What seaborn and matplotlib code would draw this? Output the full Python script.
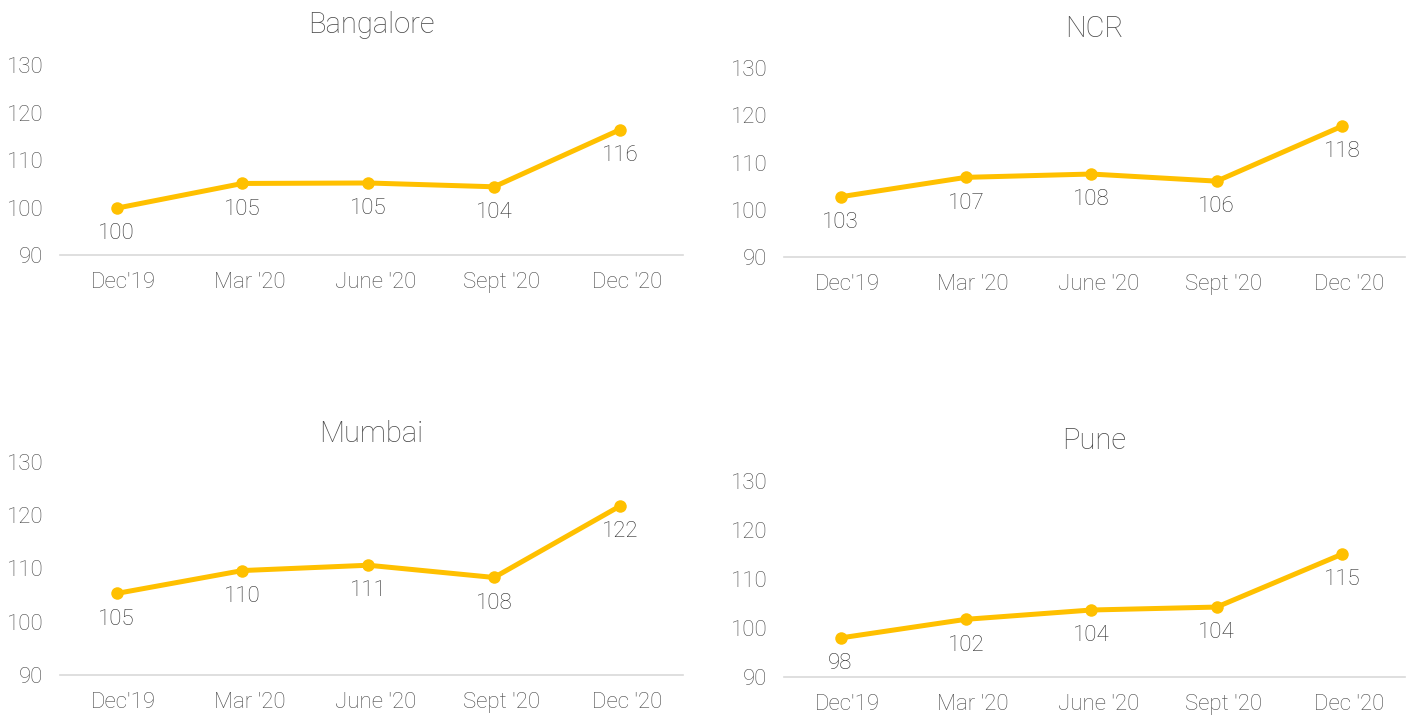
import matplotlib
matplotlib.use("Agg")
import pandas as pd
import matplotlib.pyplot as plt
import matplotlib.transforms as mtransforms
import seaborn as sns

# Chart data
periods = ["Dec'19", "Mar '20", "June '20", "Sept '20", "Dec '20"]
bangalore = [99.9, 105.1, 105.2, 104.4, 116.4]
ncr = [102.8, 106.9, 107.6, 106.1, 117.7]
mumbai = [105.3, 109.6, 110.6, 108.3, 121.7]
pune = [98.0, 101.8, 103.7, 104.3, 115.1]
cities = ["Bangalore", "NCR", "Mumbai", "Pune"]
y_ticks = [90, 100, 110, 120, 130]

sns.set_theme(style="white")
plt.rcParams["font.family"] = ["Roboto", "DejaVu Sans"]

line_color = "#FFC000"
tick_color = "#4A4A4A"
label_color = "#2E2E2E"

fig = plt.figure(figsize=(14.09, 7.15), dpi=100)

# Axes rectangles [left, bottom, width, height] and title pads
panels = [
    ([0.0426, 0.643, 0.442, 0.266], 23),
    ([0.5565, 0.640, 0.4405, 0.265], 22),
    ([0.0426, 0.056, 0.442, 0.298], 14),
    ([0.5565, 0.053, 0.4405, 0.274], 23),
]
series = [bangalore, ncr, mumbai, pune]

# nudge category labels a little to the right, like the original
shift = mtransforms.ScaledTranslation(0.07, 0, fig.dpi_scale_trans)

for (rect, pad), city, values in zip(panels, cities, series):
    ax = fig.add_axes(rect)
    df = pd.DataFrame({"Period": periods, "Index": values})
    sns.lineplot(
        data=df,
        x="Period",
        y="Index",
        color=line_color,
        linewidth=3.6,
        marker="o",
        markersize=9,
        markeredgewidth=0,
        ax=ax
    )
    for i, v in enumerate(values):
        ax.annotate(
            f"{v:.0f}",
            (i, v),
            xytext=(0, -18.5),
            textcoords="offset points",
            ha="center",
            va="center",
            fontsize=16,
            color=label_color,
            fontweight="light"
        )
    ax.set_ylim(90, 130)
    ax.set_yticks(y_ticks)
    ax.set_xlim(-0.45, 4.5)
    ax.set_xlabel("")
    ax.set_ylabel("")
    ax.set_title(city, fontsize=21, color=tick_color, pad=pad, fontweight="light")
    for side in ["left", "right", "top"]:
        ax.spines[side].set_visible(False)
    ax.spines["bottom"].set_color("#D9D9D9")
    ax.spines["bottom"].set_linewidth(1.2)
    ax.tick_params(axis="x", length=0, pad=12, labelsize=16, labelcolor=tick_color)
    ax.tick_params(axis="y", length=0, pad=12, labelsize=16, labelcolor=tick_color)
    for lbl in ax.get_xticklabels():
        lbl.set_fontweight("light")
        lbl.set_transform(lbl.get_transform() + shift)
    for lbl in ax.get_yticklabels():
        lbl.set_fontweight("light")
    ax.grid(False)

fig.savefig("out.png", dpi=100, facecolor="white")
